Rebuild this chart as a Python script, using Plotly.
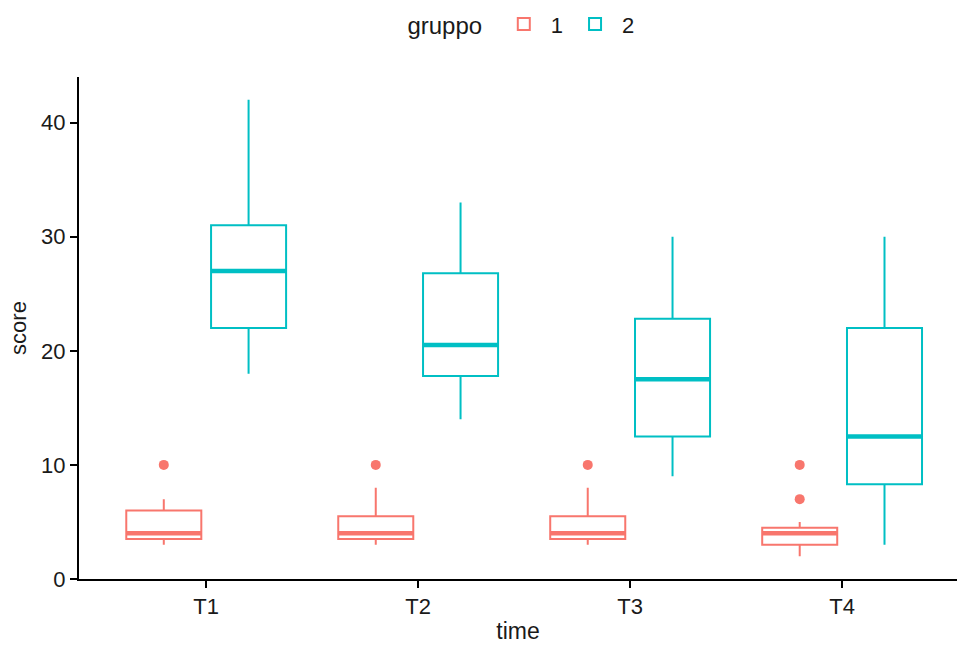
import plotly.graph_objects as go

times = ["T1", "T2", "T3", "T4"]
groups = ["1", "2"]

# group 1 stats
g1_low = [3, 3, 3, 2]
g1_q1 = [3.5, 3.5, 3.5, 3]
g1_med = [4, 4, 4, 4]
g1_q3 = [6, 5.5, 5.5, 4.5]
g1_high = [7, 8, 8, 5]
g1_out_x = ["T1", "T2", "T3", "T4", "T4"]
g1_out_y = [10, 10, 10, 10, 7]

# group 2 stats
g2_low = [18, 14, 9, 3]
g2_q1 = [22, 17.8, 12.5, 8.3]
g2_med = [27, 20.5, 17.5, 12.5]
g2_q3 = [31, 26.8, 22.8, 22]
g2_high = [42, 33, 30, 30]

colors = {"1": "#F8766D", "2": "#00BFC4"}
dodge = 0.2
box_w = 0.354

stats = {
    "1": (g1_low, g1_q1, g1_med, g1_q3, g1_high),
    "2": (g2_low, g2_q1, g2_med, g2_q3, g2_high),
}

fig = go.Figure()
for gi, g in enumerate(groups):
    low, q1, med, q3, high = stats[g]
    off = -dodge if gi == 0 else dodge
    xs = [i + 1 + off for i in range(len(times))]
    fig.add_trace(go.Box(
        x=xs, q1=q1, median=med, q3=q3, lowerfence=low, upperfence=high,
        width=box_w, whiskerwidth=0, boxpoints=False,
        fillcolor="white", line=dict(color=colors[g], width=2),
        name=g, showlegend=True, hoverinfo="skip",
    ))
    mx, my = [], []
    for x, m in zip(xs, med):
        mx += [x - box_w / 2, x + box_w / 2, None]
        my += [m, m, None]
    fig.add_trace(go.Scatter(x=mx, y=my, mode="lines",
                             line=dict(color=colors[g], width=4.5),
                             showlegend=False, hoverinfo="skip"))

fig.add_trace(go.Scatter(
    x=[times.index(t) + 1 - dodge for t in g1_out_x], y=g1_out_y,
    mode="markers", marker=dict(color=colors["1"], size=10),
    showlegend=False, hoverinfo="skip"))

font = "Liberation Sans, Arial, sans-serif"
fig.update_layout(
    width=957, height=646,
    margin=dict(l=79, r=0, t=77, b=67, autoexpand=False),
    plot_bgcolor="white", paper_bgcolor="white",
    font=dict(family=font, size=22, color="#1a1a1a"),
    showlegend=True,
    legend=dict(
        orientation="h", x=0.505, xanchor="center",
        yref="container", y=0.995, yanchor="top",
        title=dict(text="gruppo ", font=dict(size=24)),
        font=dict(size=22),
        itemwidth=44,
    ),
    xaxis=dict(
        range=[0.4, 4.542], tickvals=[1, 2, 3, 4], ticktext=times,
        showline=True, linecolor="black", linewidth=2,
        ticks="outside", ticklen=7, tickwidth=2, tickcolor="black",
        showgrid=False, zeroline=False, automargin=False,
        tickfont=dict(size=22, color="#1a1a1a"),
        title=dict(text="time", font=dict(size=23), standoff=4),
    ),
    yaxis=dict(
        range=[0, 44], tickvals=[0, 10, 20, 30, 40],
        showline=True, linecolor="black", linewidth=2,
        ticks="outside", ticklen=7, tickwidth=2, tickcolor="black",
        showgrid=False, zeroline=False, automargin=False,
        tickfont=dict(size=22, color="#1a1a1a"),
        title=dict(text="score", font=dict(size=22), standoff=8),
    ),
)

fig.write_html(
    "out.html",
    config={"displayModeBar": False},
    post_script="document.body.style.margin='0';document.body.style.overflow='hidden';",
)
